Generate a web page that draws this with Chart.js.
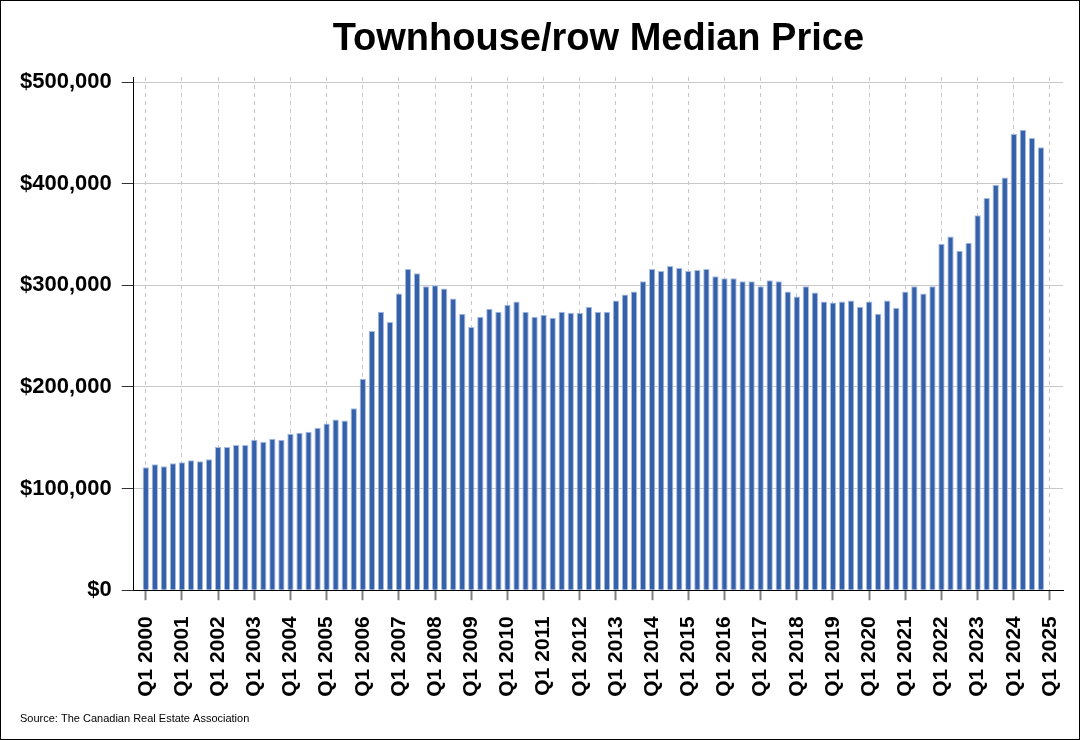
<!DOCTYPE html>
<html>
<head>
<meta charset="utf-8">
<script src="https://cdn.jsdelivr.net/npm/chart.js@4.4.1/dist/chart.umd.min.js"></script>
<style>
  html, body { margin: 0; padding: 0; background: #fff; }
  #frame { width: 1080px; height: 740px; box-sizing: border-box; border: 1px solid #000; }
  canvas { display: block; }
</style>
</head>
<body>
<div id="frame"><canvas id="chart" width="1078" height="738"></canvas></div>
<script>
var chartTitle = "Townhouse/row Median Price";

// tick labels, one per year boundary
var yearTicks = ["Q1 2000", "Q1 2001", "Q1 2002", "Q1 2003", "Q1 2004", "Q1 2005",
  "Q1 2006", "Q1 2007", "Q1 2008", "Q1 2009", "Q1 2010", "Q1 2011", "Q1 2012",
  "Q1 2013", "Q1 2014", "Q1 2015", "Q1 2016", "Q1 2017", "Q1 2018", "Q1 2019",
  "Q1 2020", "Q1 2021", "Q1 2022", "Q1 2023", "Q1 2024", "Q1 2025"];

var priceTicks = [0, 100000, 200000, 300000, 400000, 500000];

// median price, Q1 2000 .. Q4 2024
var prices = [
  121000, 124000, 122000, 125000, // 2000
  126000, 128000, 127000, 129000, // 2001
  141000, 141000, 143000, 143000, // 2002
  148000, 146000, 149000, 148000, // 2003
  154000, 155000, 156000, 160000, // 2004
  164000, 168000, 167000, 179000, // 2005
  208000, 255000, 274000, 264000, // 2006
  292000, 316000, 312000, 299000, // 2007
  300000, 297000, 287000, 272000, // 2008
  259000, 269000, 277000, 274000, // 2009
  281000, 284000, 274000, 269000, // 2010
  271000, 268000, 274000, 273000, // 2011
  273000, 279000, 274000, 274000, // 2012
  285000, 291000, 294000, 304000, // 2013
  316000, 314000, 319000, 317000, // 2014
  314000, 315000, 316000, 309000, // 2015
  307000, 307000, 304000, 304000, // 2016
  299000, 305000, 304000, 294000, // 2017
  289000, 299000, 293000, 284000, // 2018
  283000, 284000, 285000, 279000, // 2019
  284000, 272000, 285000, 278000, // 2020
  294000, 299000, 292000, 299000, // 2021
  341000, 348000, 334000, 342000, // 2022
  369000, 386000, 399000, 406000, // 2023
  449000, 453000, 445000, 436000  // 2024
];

// quarter index on the x scale, 0 = Q1 2000
var points = [];
for (var i = 0; i < prices.length; i++) {
  points.push({ x: i, y: prices[i] });
}

function money(v) {
  return "$" + v.toLocaleString("en-US");
}

// title centred over the plot area, not the whole canvas
var plotTitle = {
  id: "plotTitle",
  afterDraw: function (chart) {
    var c = chart.ctx;
    var area = chart.chartArea;
    c.save();
    c.font = "bold 38px 'Liberation Sans', Arial";
    c.fillStyle = "#000";
    c.textAlign = "center";
    c.textBaseline = "alphabetic";
    c.fillText(chartTitle, (area.left + area.right) / 2, 49);
    c.restore();
  }
};

function noEdgePadding(scale) {
  scale.paddingLeft = 0;
  scale.paddingRight = 0;
}

var ctx = document.getElementById("chart").getContext("2d");
var chart = new Chart(ctx, {
  type: "bar",
  data: {
    datasets: [{
      label: "Median Price",
      data: points,
      backgroundColor: "#3560aa",
      borderColor: "#a9bde2",
      borderWidth: 1,
      barPercentage: 0.7,
      categoryPercentage: 1
    }]
  },
  plugins: [plotTitle],
  options: {
    responsive: false,
    animation: false,
    layout: { padding: { left: 19, right: 16, top: 76, bottom: 0 } },
    plugins: {
      legend: { display: false },
      tooltip: { enabled: false },
      title: { display: false },
      subtitle: {
        display: true,
        position: "bottom",
        align: "start",
        text: "Source: The Canadian Real Estate Association",
        color: "#000",
        font: { family: "Liberation Sans, Arial", size: 11 },
        padding: { top: 0, bottom: 13 }
      }
    },
    scales: {
      x: {
        type: "linear",
        offset: false,
        min: -1.33,
        max: 101.44,
        afterBuildTicks: function (scale) {
          var t = [];
          for (var k = 0; k < yearTicks.length; k++) {
            t.push({ value: k * 4 });
          }
          scale.ticks = t;
        },
        afterFit: noEdgePadding,
        ticks: {
          minRotation: 90,
          maxRotation: 90,
          autoSkip: false,
          padding: 16,
          color: "#000",
          font: { family: "Liberation Sans, Arial", size: 21, weight: "bold" },
          callback: function (value) {
            return yearTicks[value / 4];
          }
        },
        grid: {
          offset: false,
          color: "#c8c8c8",
          tickColor: "#808080",
          tickBorderDash: [],
          tickLength: 10,
          tickWidth: 2
        },
        border: { color: "#000", width: 1, dash: [4, 4] }
      },
      y: {
        min: 0,
        max: 505000,
        afterBuildTicks: function (scale) {
          scale.ticks = priceTicks.map(function (v) { return { value: v }; });
        },
        afterFit: function (scale) {
          // label padding is counted on both sides, keep only the inner one
          scale.width -= 10;
        },
        ticks: {
          padding: 10,
          color: "#000",
          font: { family: "Liberation Sans, Arial", size: 22, weight: "bold" },
          callback: function (value) {
            return money(value);
          }
        },
        grid: {
          color: "#c8c8c8",
          tickColor: "#333",
          tickLength: 12
        },
        border: { color: "#000", width: 1 }
      }
    }
  }
});
</script>
</body>
</html>
